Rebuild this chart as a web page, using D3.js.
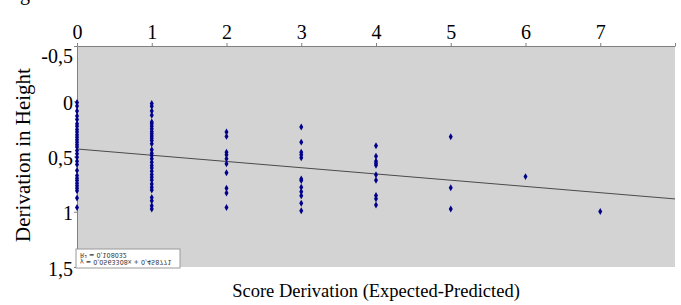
<!DOCTYPE html>
<html>
<head>
<meta charset="utf-8">
<script src="https://cdn.jsdelivr.net/npm/d3@7"></script>
<style>
  body { margin: 0; background: #fff; }
  text { font-family: "Liberation Serif", "DejaVu Serif", serif; }
</style>
</head>
<body>
<div id="chart"></div>
<script>
const width = 681;
const height = 305;
const margin = { top: 46, right: 6, bottom: 38, left: 77 };

// x ticks (score derivation) and y ticks (height derivation)
const xTicks = [0, 1, 2, 3, 4, 5, 6, 7, 8];
const yTicks = [-0.5, 0, 0.5, 1, 1.5];

// points per score derivation column
const col0 = [0.012, 0.043, 0.088, 0.134, 0.166, 0.203, 0.227, 0.255, 0.279, 0.303, 0.325, 0.348, 0.37, 0.394, 0.415,
  0.445, 0.475, 0.506, 0.543, 0.573, 0.627, 0.673, 0.697, 0.718, 0.743, 0.764, 0.788, 0.809, 0.875, 0.961];
const col1 = [0.021, 0.045, 0.088, 0.127, 0.188, 0.203, 0.227, 0.248, 0.273, 0.294, 0.315, 0.334, 0.355, 0.385, 0.439, 0.47,
  0.491, 0.521, 0.552, 0.582, 0.603, 0.634, 0.664, 0.688, 0.712, 0.748, 0.779, 0.803, 0.87, 0.9, 0.945, 0.976];
const col2 = [0.279, 0.318, 0.461, 0.485, 0.521, 0.566, 0.648, 0.788, 0.83, 0.961];
const col3 = [0.233, 0.37, 0.461, 0.485, 0.512, 0.703, 0.718, 0.779, 0.818, 0.855, 0.924, 0.991];
const col4 = [0.403, 0.497, 0.543, 0.561, 0.579, 0.666, 0.715, 0.852, 0.882, 0.939];
const col5 = [0.321, 0.782, 0.976];
const col6 = [0.682];
const col7 = [0.997];
const columns = [col0, col1, col2, col3, col4, col5, col6, col7];

// trend line as drawn
const trendSlope = 0.0565;
const trendIntercept = 0.432;
const trendLabels = ["y = 0,0563308x + 0,458771", "R\u00b2 = 0,108032"];

const points = [];
columns.forEach((vals, x) => vals.forEach(v => points.push({ x, y: v })));

const svg = d3.select("#chart").append("svg")
  .attr("width", width)
  .attr("height", height);

const innerW = width - margin.left - margin.right;
const innerH = height - margin.top - margin.bottom;

const x = d3.scaleLinear().domain([0, 8]).range([margin.left, margin.left + innerW]);
const y = d3.scaleLinear().domain([-0.5, 1.5]).range([margin.top, margin.top + innerH]);

// clipped text fragment at top-left (cut off in the source too)
svg.append("text").attr("x", 20).attr("y", 0).attr("font-size", 20).text("g");

svg.append("rect")
  .attr("x", margin.left).attr("y", margin.top)
  .attr("width", innerW).attr("height", innerH)
  .attr("fill", "#d3d3d3");

// decimal comma, plain hyphen for negatives
const fmt = d => String(d).replace(".", ",");
const serif = "'Liberation Serif', 'DejaVu Serif', serif";

// top axis
const xAxis = svg.append("g")
  .attr("transform", `translate(0,${margin.top})`)
  .call(d3.axisTop(x).tickValues(xTicks).tickSize(3).tickSizeOuter(0)
    .tickFormat(d => d === 8 ? "" : d));
xAxis.attr("font-family", serif).attr("font-size", 20);
xAxis.select(".domain").attr("stroke", "#808080");
xAxis.selectAll(".tick line").attr("stroke", "#808080");
xAxis.selectAll(".tick text").attr("fill", "#000").attr("y", -7);

// left axis
const yAxis = svg.append("g")
  .attr("transform", `translate(${margin.left},0)`)
  .call(d3.axisLeft(y).tickValues(yTicks).tickSize(3).tickSizeOuter(0).tickFormat(fmt));
yAxis.attr("font-family", serif).attr("font-size", 20);
yAxis.select(".domain").attr("stroke", "#808080");
yAxis.selectAll(".tick line").attr("stroke", "#808080");
yAxis.selectAll(".tick text")
  .attr("fill", "#000").attr("x", -4)
  .attr("dy", d => d === -0.5 ? "0.8em" : "0.4em");

// trend line
svg.append("line")
  .attr("x1", x(0)).attr("y1", y(trendIntercept))
  .attr("x2", x(8)).attr("y2", y(trendIntercept + 8 * trendSlope))
  .attr("stroke", "#4a4a4a").attr("stroke-width", 1);

// points as small diamonds
const diamond = d3.symbol().type(d3.symbolDiamond).size(14);
svg.append("g").selectAll("path")
  .data(points)
  .join("path")
  .attr("transform", d => `translate(${x(d.x)},${y(d.y)})`)
  .attr("d", diamond)
  .attr("fill", "#00008b");

// equation box (drawn flipped upside down as in the source)
const box = { x: margin.left - 1, y: 249, w: 104, h: 19 };
svg.append("rect")
  .attr("x", box.x).attr("y", box.y).attr("width", box.w).attr("height", box.h)
  .attr("fill", "#fff").attr("stroke", "#9a9a9a").attr("stroke-width", 1);
const flip = svg.append("g")
  .attr("transform", `translate(0,${2 * box.y + box.h}) scale(1,-1)`);
flip.selectAll("text")
  .data(trendLabels)
  .join("text")
  .attr("x", box.x + 4)
  .attr("y", (d, i) => box.y + 8 + i * 7.5)
  .style("font-family", "'DejaVu Sans', sans-serif")
  .style("font-size", "6.4px")
  .attr("fill", "#333")
  .text(d => d);

// axis titles
svg.append("text")
  .attr("x", x(4)).attr("y", 297)
  .attr("text-anchor", "middle").style("font-size", "18.5px")
  .text("Score Derivation (Expected-Predicted)");

svg.append("text")
  .attr("transform", "translate(30,155) rotate(-90)")
  .attr("text-anchor", "middle").style("font-size", "21px")
  .text("Derivation in Height");
</script>
</body>
</html>
